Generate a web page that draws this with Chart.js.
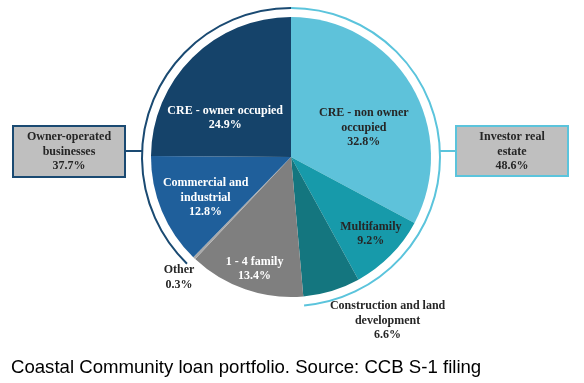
<!DOCTYPE html>
<html><head><meta charset="utf-8">
<script src="https://cdn.jsdelivr.net/npm/chart.js@4"></script>
<style>html,body{margin:0;padding:0;background:#fff;}#wrap{width:584px;height:383px;position:relative;}</style>
</head><body><div id="wrap"><canvas id="c" width="584" height="383"></canvas></div>
<script>
// Data (clockwise from top)
const categories = ["CRE - non owner occupied","Multifamily","Construction and land development","1 - 4 family","Other","Commercial and industrial","CRE - owner occupied"];
const values = [32.8, 9.2, 6.6, 13.4, 0.3, 12.8, 24.9];
const sliceColors = ["#5ec2da","#179aaa","#14767f","#7f7f7f","#a9a9a9","#1f5f9b","#15436a"];
// Label text lines per slice
const labelLines = [["CRE - non owner","occupied","32.8%"],["Multifamily","9.2%"],["Construction and land","development","6.6%"],["1 - 4 family","13.4%"],["Other","0.3%"],["Commercial and","industrial","12.8%"],["CRE - owner occupied","24.9%"]];
const labelColors = ["#262626","#262626","#262626","#ffffff","#262626","#ffffff","#ffffff"];
// label anchor (relative to centre, in units of radius)
const labelPos = [[0.52,-0.21],[0.57,0.55],[0.69,1.17],[-0.26,0.80],[-0.80,0.86],[-0.61,0.29],[-0.47,-0.28]];
// Groups
const groupNames = [["Investor real","estate","48.6%"],["Owner-operated","businesses","37.7%"]];
const groupMembers = [[0,1,2],[5,6]];
const groupColors = ["#5bc4dc","#1a4a72"];
const caption = "Coastal Community loan portfolio. Source: CCB S-1 filing";

const overlay = {
  id:'overlay',
  afterDraw(chart){
    const ctx = chart.ctx;
    const meta = chart.getDatasetMeta(0);
    const a0 = meta.data[0];
    const cx = a0.x, cy = a0.y, R = a0.outerRadius;
    ctx.save();
    // group arcs
    const rr = R + 9;
    groupMembers.forEach((m,gi)=>{
      const s = meta.data[m[0]].startAngle, e = meta.data[m[m.length-1]].endAngle;
      ctx.beginPath();
      ctx.strokeStyle = groupColors[gi];
      ctx.lineWidth = 2;
      ctx.arc(cx, cy, rr, s, e);
      ctx.stroke();
    });
    // group boxes
    groupNames.forEach((lines,gi)=>{
      const b = gi===0 ? {x:456,y:126,w:112,h:50} : {x:13,y:126,w:112,h:51};
      ctx.fillStyle = "#bfbfbf";
      ctx.fillRect(b.x,b.y,b.w,b.h);
      ctx.strokeStyle = groupColors[gi];
      ctx.lineWidth = 2;
      ctx.strokeRect(b.x,b.y,b.w,b.h);
      // connector
      const ly = 151;
      const dy = ly - cy;
      const ax = Math.sqrt(rr*rr - dy*dy);
      ctx.beginPath();
      if (gi===0){ ctx.moveTo(cx+ax, ly); ctx.lineTo(b.x, ly); }
      else { ctx.moveTo(b.x+b.w, ly); ctx.lineTo(cx-ax, ly); }
      ctx.stroke();
      ctx.fillStyle = "#262626";
      ctx.font = "bold 12px 'Liberation Serif'";
      ctx.textAlign = "center"; ctx.textBaseline = "middle";
      lines.forEach((t,i)=>ctx.fillText(t, b.x+b.w/2, b.y+11+i*14.5));
    });
    // slice labels
    ctx.font = "bold 12px 'Liberation Serif'";
    ctx.textAlign = "center"; ctx.textBaseline = "middle";
    labelLines.forEach((lines,i)=>{
      const x = cx + labelPos[i][0]*R, y = cy + labelPos[i][1]*R;
      ctx.fillStyle = labelColors[i];
      const n = lines.length;
      lines.forEach((t,j)=>ctx.fillText(t, x, y + (j-(n-1)/2)*14.5));
    });
    // caption
    ctx.fillStyle = "#000";
    ctx.font = "18.6px 'Liberation Sans'";
    ctx.textAlign = "left"; ctx.textBaseline = "alphabetic";
    ctx.fillText(caption, 11, 373);
    ctx.restore();
  }
};

new Chart(document.getElementById('c'), {
  type:'pie',
  data:{labels:categories, datasets:[{data:values, backgroundColor:sliceColors, borderWidth:0}]},
  options:{
    responsive:false, animation:false,
    layout:{padding:{top:17,bottom:86,left:151,right:153}},
    plugins:{legend:{display:false}, tooltip:{enabled:false}}
  },
  plugins:[overlay]
});
</script></body></html>
